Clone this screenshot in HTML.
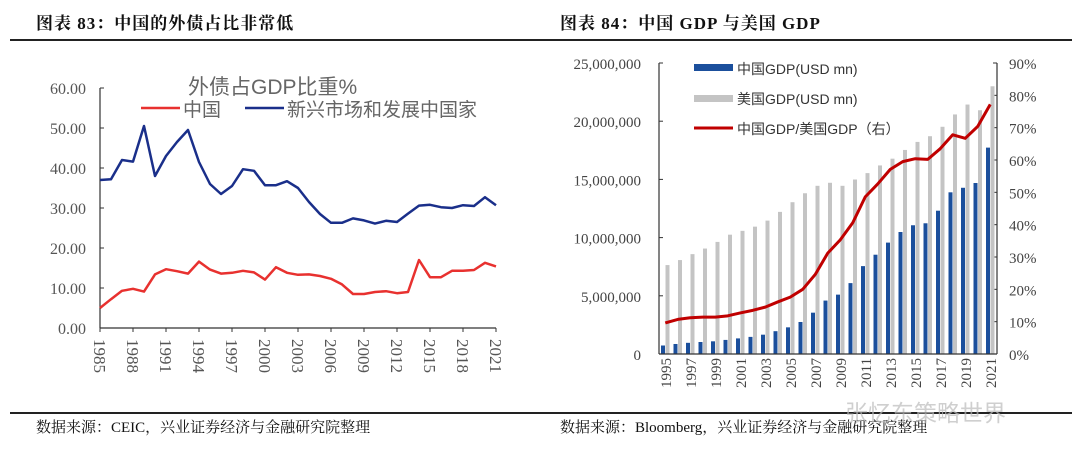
<!DOCTYPE html>
<html><head><meta charset="utf-8"><style>
body{margin:0;background:#fff;width:1080px;height:462px;overflow:hidden}
svg{display:block}
.t{font-family:"Liberation Serif","Noto Serif CJK SC",serif}
.s{font-family:"Liberation Sans","Noto Sans CJK SC",sans-serif}
</style></head><body>
<svg id="root" width="1080" height="462">
<text class="t" x="36" y="29" font-size="17" font-weight="bold" fill="#111" letter-spacing="1">图表 83：中国的外债占比非常低</text>
<text class="t" x="560" y="29" font-size="17" font-weight="bold" fill="#111" letter-spacing="1">图表 84：中国 GDP 与美国 GDP</text>
<line x1="10" y1="40" x2="1072" y2="40" stroke="#222" stroke-width="2"/>
<line x1="10" y1="413" x2="1072" y2="413" stroke="#222" stroke-width="2"/>
<text class="t" x="36" y="432" font-size="15" fill="#111">数据来源：CEIC，兴业证券经济与金融研究院整理</text>
<text class="t" x="560" y="432" font-size="15" fill="#111">数据来源：Bloomberg，兴业证券经济与金融研究院整理</text>
<text class="s" x="845" y="421" font-size="23" fill="#bbb" opacity="0.7">张忆东策略世界</text>
<g id="left"></g>
<g id="right"></g>
</svg>
<script>
const years1=[];for(let y=1985;y<=2021;y++)years1.push(y);
const emDebt=[37,37.2,42,41.6,50.5,38,43,46.5,49.5,41.5,36,33.5,35.5,39.7,39.3,35.7,35.7,36.7,35,31.5,28.5,26.3,26.3,27.4,26.9,26.1,26.8,26.5,28.6,30.6,30.8,30.2,30,30.7,30.5,32.7,30.7];
const cnDebt=[5,7.2,9.3,9.8,9.1,13.4,14.7,14.2,13.6,16.6,14.6,13.6,13.8,14.3,13.9,12.1,15.2,13.8,13.3,13.4,13,12.3,10.9,8.5,8.5,9,9.2,8.7,9,17,12.7,12.7,14.3,14.3,14.5,16.3,15.4];
const yTicks1=[0,10,20,30,40,50,60];
const years2=[];for(let y=1995;y<=2021;y++)years2.push(y);
const cnGdp=[0.73,0.86,0.96,1.03,1.09,1.21,1.34,1.47,1.66,1.96,2.29,2.75,3.55,4.59,5.10,6.09,7.55,8.53,9.57,10.48,11.06,11.23,12.31,13.89,14.28,14.69,17.73];
const usGdp=[7.64,8.07,8.58,9.06,9.63,10.25,10.58,10.94,11.46,12.21,13.04,13.81,14.45,14.71,14.45,14.99,15.54,16.2,16.78,17.53,18.22,18.71,19.52,20.58,21.43,20.94,23];
const ratio=[9.6,10.7,11.2,11.4,11.4,11.8,12.7,13.5,14.5,16.1,17.6,20,24.6,31.2,35.3,40.6,48.6,52.6,57.1,59.5,60.4,60.2,63.5,67.8,66.7,70.4,77.2];
const lTicks2=[0,5,10,15,20,25];
const rTicks2=[0,10,20,30,40,50,60,70,80,90];
const NS="http://www.w3.org/2000/svg";
function mk(p,t,a,txt){const e=document.createElementNS(NS,t);for(const k in a)e.setAttribute(k,a[k]);if(txt!=null)e.textContent=txt;p.appendChild(e);return e;}
const fmt=n=>n.toLocaleString('en-US');
const L=document.getElementById('left');
const x1=i=>100+i*11, y1=v=>328-v*4;
for(const t of yTicks1){
 const tx=mk(L,'text',{x:86,y:y1(t)+6,'text-anchor':'end','font-size':16,fill:'#555',class:'t'},t.toFixed(2));
 
 
 mk(L,'line',{x1:100,x2:104,y1:y1(t),y2:y1(t),stroke:'#333'});
}
mk(L,'line',{x1:100,x2:100,y1:88,y2:328,stroke:'#333','stroke-width':1.2});
mk(L,'line',{x1:100,x2:496,y1:328,y2:328,stroke:'#333','stroke-width':1.2});
years1.forEach((y,i)=>{if(i%3===0){mk(L,'line',{x1:x1(i),x2:x1(i),y1:328,y2:332,stroke:'#333'});
 const tx=mk(L,'text',{transform:`translate(${x1(i)-6},339) rotate(90)`,'font-size':17,fill:'#555',class:'t'},y);
 
 }});
const pe=mk(L,'polyline',{points:emDebt.map((v,i)=>x1(i)+','+y1(v)).join(' '),fill:'none',stroke:'#1a2f8a','stroke-width':2.5,'stroke-linejoin':'round'});


const pc=mk(L,'polyline',{points:cnDebt.map((v,i)=>x1(i)+','+y1(v)).join(' '),fill:'none',stroke:'#e8312f','stroke-width':2.5,'stroke-linejoin':'round'});


const lt=mk(L,'text',{x:188,y:94,'font-size':21,fill:'#666',class:'s'},'外债占GDP比重%');


mk(L,'line',{x1:141,x2:180,y1:108,y2:108,stroke:'#e8312f','stroke-width':2.5});
const l1=mk(L,'text',{x:183,y:116,'font-size':19,fill:'#666',class:'s'},'中国');


mk(L,'line',{x1:245,x2:284,y1:108,y2:108,stroke:'#1a2f8a','stroke-width':2.5});
const l2=mk(L,'text',{x:287,y:116,'font-size':19,fill:'#666',class:'s'},'新兴市场和发展中国家');


const R=document.getElementById('right');
const bw=12.5, xb=i=>659+i*bw, yl=v=>354-v*(291/25), yr=v=>354-v*(291/90);
for(const t of lTicks2){
 const tx=mk(R,'text',{x:641,y:yl(t)+6,'text-anchor':'end','font-size':15,fill:'#444',class:'t'},fmt(t*1000000));
 
 
 mk(R,'line',{x1:659,x2:663,y1:yl(t),y2:yl(t),stroke:'#333'});
}
for(const t of rTicks2){
 const tx=mk(R,'text',{x:1009,y:yr(t)+6,'font-size':15,fill:'#444',class:'t'},t+'%');
 
 
 mk(R,'line',{x1:993,x2:997,y1:yr(t),y2:yr(t),stroke:'#333'});
}
years2.forEach((y,i)=>{
 const g=mk(R,'rect',{x:xb(i)+6.5,y:yl(usGdp[i]),width:4,height:354-yl(usGdp[i]),fill:'#c4c4c4'});
 
 
 const b=mk(R,'rect',{x:xb(i)+2,y:yl(cnGdp[i]),width:4,height:354-yl(cnGdp[i]),fill:'#1b4f9c'});
 
 
 if(i%2===0){const tx=mk(R,'text',{transform:`translate(${xb(i)+bw/2+5.5},358) rotate(-90)`,'text-anchor':'end','font-size':15,fill:'#444',class:'t'},y);
 
 }
});
mk(R,'line',{x1:659,x2:659,y1:63,y2:354,stroke:'#333','stroke-width':1.2});
mk(R,'line',{x1:997,x2:997,y1:63,y2:354,stroke:'#333','stroke-width':1.2});
mk(R,'line',{x1:659,x2:997,y1:354,y2:354,stroke:'#333','stroke-width':1.2});
const rl=mk(R,'polyline',{points:ratio.map((v,i)=>(xb(i)+bw/2)+','+yr(v)).join(' '),fill:'none',stroke:'#c00000','stroke-width':3,'stroke-linejoin':'round'});


mk(R,'rect',{x:694,y:64,width:39,height:7,fill:'#1b4f9c'});
const a=mk(R,'text',{x:737,y:74,'font-size':14,fill:'#333',class:'s'},'中国GDP(USD mn)');


mk(R,'rect',{x:694,y:95,width:39,height:7,fill:'#c4c4c4'});
const b2=mk(R,'text',{x:737,y:104,'font-size':14,fill:'#333',class:'s'},'美国GDP(USD mn)');


mk(R,'line',{x1:694,x2:733,y1:128,y2:128,stroke:'#c00000','stroke-width':3});
const c=mk(R,'text',{x:737,y:134,'font-size':14,fill:'#333',class:'s'},'中国GDP/美国GDP（右）');


</script>
</body></html>
